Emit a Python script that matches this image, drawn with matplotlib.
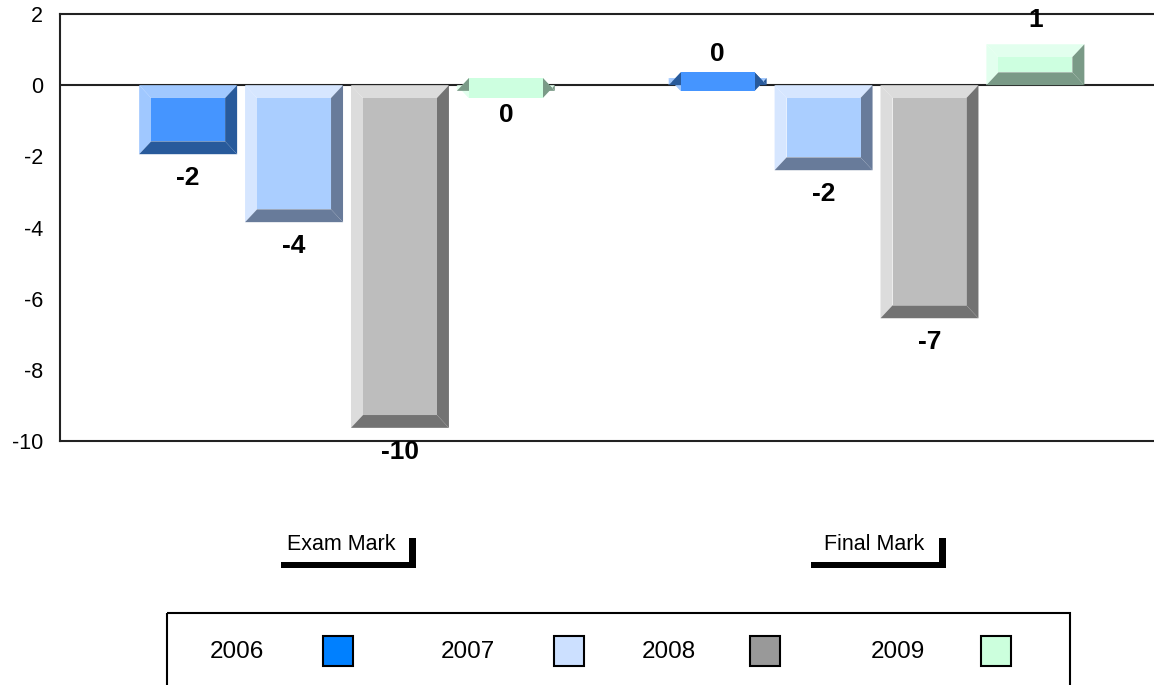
import numpy as np
import matplotlib.pyplot as plt
from matplotlib.patches import Polygon, Rectangle
from matplotlib.transforms import blended_transform_factory

plt.rcParams['font.family'] = ['Liberation Sans', 'DejaVu Sans']

groups = ['Exam Mark', 'Final Mark']
years = ['2006', '2007', '2008', '2009']
vals_2006 = [-1.94, 0.20]
vals_2007 = [-3.85, -2.39]
vals_2008 = [-9.63, -6.55]
vals_2009 = [-0.16, 1.15]
series = [vals_2006, vals_2007, vals_2008, vals_2009]
yticks = [2, 0, -2, -4, -6, -8, -10]

face_colors = ['#4595FF', '#AACEFF', '#BDBDBD', '#CDFFE0']
light_colors = ['#A0C8FF', '#D6E6FF', '#DCDCDC', '#E2FFEE']
dark_colors = ['#285A9B', '#687B9A', '#737373', '#7A9A87']
legend_colors = ['#0080FF', '#CCE0FF', '#999999', '#CCFFDD']

W, H = 1154, 685
fig = plt.figure(figsize=(W / 100, H / 100), dpi=100)
ax = fig.add_axes([60 / W, 1 - 441 / H, 1 - 60 / W, (441 - 14) / H])
ax.set_xlim(-0.542, 1.524)
ax.set_ylim(-10, 2)
ax.set_yticks(yticks)
ax.set_yticklabels([str(t) for t in yticks])
ax.tick_params(axis='y', length=0, pad=12, labelsize=15.5)
ax.set_xticks([])
for s in ['left', 'top', 'bottom']:
    ax.spines[s].set_linewidth(1.5)
    ax.spines[s].set_color('#222222')
ax.spines['right'].set_visible(False)
ax.axhline(0, color='#222222', lw=1.5, zorder=1)

step = 0.2
width = 0.185
bx = 12 / 529.5   # bevel width in x units
by = 0.36         # bevel height in y units


def bevel_bar(xc, v, i):
    x0, x1 = xc - width / 2, xc + width / 2
    top, bot = max(v, 0), min(v, 0)
    ix0, ix1, itop, ibot = x0 + bx, x1 - bx, top - by, bot + by
    polys = [
        ([(x0, top), (x1, top), (ix1, itop), (ix0, itop)], light_colors[i]),
        ([(x0, top), (ix0, itop), (ix0, ibot), (x0, bot)], light_colors[i]),
        ([(x1, top), (x1, bot), (ix1, ibot), (ix1, itop)], dark_colors[i]),
        ([(x0, bot), (x1, bot), (ix1, ibot), (ix0, ibot)], dark_colors[i]),
        ([(ix0, itop), (ix1, itop), (ix1, ibot), (ix0, ibot)], face_colors[i]),
    ]
    for pts, c in polys:
        ax.add_patch(Polygon(pts, closed=True, facecolor=c, edgecolor='none', zorder=2))


for i, vals in enumerate(series):
    for g, v in enumerate(vals):
        xc = g + (i - 1.5) * step
        bevel_bar(xc, v, i)
        ax.annotate(str(int(round(v))), (xc, v), xytext=(0, -24 if v < 0 else 24),
                    textcoords='offset pixels', ha='center', va='center',
                    fontsize=19, fontweight='bold', zorder=5)

# overlay in pixel coordinates for category brackets and legend
over = fig.add_axes([0, 0, 1, 1], facecolor='none')
over.set_xlim(0, W)
over.set_ylim(H, 0)
over.axis('off')
tr = blended_transform_factory(ax.transData, over.transData)

px = 1 / 529.5
for g, name in enumerate(groups):
    xr = g + 69 * px
    over.add_patch(Rectangle((xr - 135 * px, 562), 135 * px, 6, transform=tr,
                             facecolor='black', edgecolor='none', clip_on=False))
    over.add_patch(Rectangle((xr - 7 * px, 538), 7 * px, 30, transform=tr,
                             facecolor='black', edgecolor='none', clip_on=False))
    over.text(xr - 21 * px, 545, name, transform=tr, ha='right', va='center', fontsize=15.5)

over.add_patch(Rectangle((167, 613), 903, 90, facecolor='none', edgecolor='black',
                         lw=1.5, clip_on=False))
text_x = [210, 441, 642, 871]
box_x = [323, 554, 750, 981]
for i, yr in enumerate(years):
    over.text(text_x[i], 652, yr, ha='left', va='center', fontsize=17.5)
    over.add_patch(Rectangle((box_x[i], 636), 30, 30, facecolor=legend_colors[i],
                             edgecolor='black', lw=1.5))

fig.savefig('out.png', dpi=100)
